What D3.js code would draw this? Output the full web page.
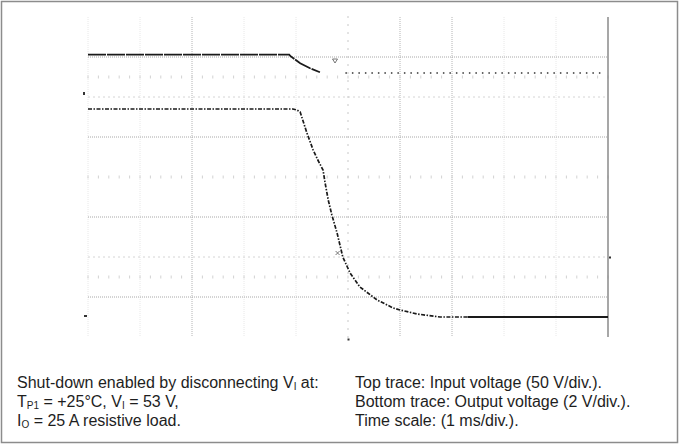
<!DOCTYPE html>
<html>
<head>
<meta charset="utf-8">
<script src="https://cdn.jsdelivr.net/npm/d3@7"></script>
<style>
  body { margin: 0; background: #fff; }
  svg text { font-family: "Liberation Sans", Arial, sans-serif; fill: #1e1e1e; }
</style>
</head>
<body>
<svg id="chart" width="684" height="446"></svg>
<script>
// graticule: 10 time divisions (1 ms/div), 8 vertical divisions
const timeDivs = [0, 1, 2, 3, 4, 5, 6, 7, 8, 9, 10];
const darkCols = [2, 6, 7];
const faintCols = [0, 1, 3, 4, 8, 9];
const darkRows = [1, 3, 5, 7];
const faintRows = [2, 6];
const tickRows = [1.5, 4, 6.5];

// top trace: input voltage (50 V/div), time in ms
const inputTime = [0, 3.87, 3.89, 4.08, 4.27, 4.46];
const inputVolts = [53, 53, 51.3, 42.1, 35.9, 30.9];
const inputTailTime = [4.95, 9.95];
const inputTailVolts = [30, 30];

// bottom trace: output voltage (2 V/div), time in ms
const outputTime = [0, 3.94, 4.02, 4.08, 4.21, 4.33, 4.42, 4.52, 4.56, 4.62, 4.69, 4.79, 4.90, 5.04, 5.23, 5.56, 5.87, 6.0, 6.33, 6.77, 7.3, 10];
const outputVolts = [10.4, 10.4, 10.35, 10.25, 9.2, 8.35, 7.85, 7.35, 6.7, 5.85, 5.1, 4.2, 3.0, 2.2, 1.5, 0.85, 0.45, 0.35, 0.15, 0.0, 0.0, 0.0];

const svg = d3.select("#chart");

// outer frame
svg.append("rect")
  .attr("x", 1.5).attr("y", 1.5)
  .attr("width", 676).attr("height", 441)
  .attr("fill", "none")
  .attr("stroke", "#8c8c8c")
  .attr("stroke-width", 1.5);

const x = d3.scaleLinear().domain([0, 10]).range([88, 608]);
const div = d3.scaleLinear().domain([0, 8]).range([17, 337]);
// channel scales (one division = 40px), ground references at their markers
const yIn = d3.scaleLinear().domain([0, 50]).range([div(2), div(1)]);
const yOut = d3.scaleLinear().domain([0, 2]).range([div(7.5), div(6.5)]);

const grid = svg.append("g");

// vertical grid lines
grid.selectAll(".vfaint").data(faintCols).enter().append("line")
  .attr("x1", d => x(d)).attr("x2", d => x(d))
  .attr("y1", div(0)).attr("y2", div(8))
  .attr("stroke", "#e8e8e8").attr("stroke-dasharray", "1,1");
grid.selectAll(".vdark").data(darkCols).enter().append("line")
  .attr("x1", d => x(d)).attr("x2", d => x(d))
  .attr("y1", div(0)).attr("y2", div(8))
  .attr("stroke", "#b4b4b4").attr("stroke-dasharray", "1,1");

// horizontal grid lines
grid.selectAll(".hfaint").data(faintRows).enter().append("line")
  .attr("x1", x(0)).attr("x2", x(10))
  .attr("y1", d => div(d)).attr("y2", d => div(d))
  .attr("stroke", "#d4d4d4").attr("stroke-dasharray", "2,3");
grid.selectAll(".hdark").data(darkRows).enter().append("line")
  .attr("x1", x(0)).attr("x2", x(10))
  .attr("y1", d => div(d)).attr("y2", d => div(d))
  .attr("stroke", "#a8a8a8").attr("stroke-dasharray", "1,1");

// minor ticks along some rows (5 per division)
const minor = d3.range(0, 10.01, 0.2);
tickRows.forEach(r => {
  grid.selectAll(null).data(minor).enter().append("line")
    .attr("x1", d => x(d)).attr("x2", d => x(d))
    .attr("y1", div(r) - 1.5).attr("y2", div(r) + 1.5)
    .attr("stroke", "#d2d2d2");
});
// minor ticks on the centre column
grid.selectAll(null).data(d3.range(0, 8.01, 0.2)).enter().append("line")
  .attr("x1", x(5) - 1).attr("x2", x(5) + 1)
  .attr("y1", d => div(d)).attr("y2", d => div(d))
  .attr("stroke", "#c8c8c8");

// right edge of screen
grid.append("line")
  .attr("x1", x(10)).attr("x2", x(10))
  .attr("y1", div(0)).attr("y2", div(8))
  .attr("stroke", "#8a8a8a").attr("stroke-width", 1.5);

// traces
const lineIn = d3.line().x(d => x(d[0])).y(d => yIn(d[1]));
const lineOut = d3.line().x(d => x(d[0])).y(d => yOut(d[1]));

svg.append("path")
  .datum(d3.zip(inputTime, inputVolts))
  .attr("d", lineIn)
  .attr("fill", "none").attr("stroke", "#1a1a1a")
  .attr("stroke-width", 1.8).attr("stroke-dasharray", "18,1");

svg.append("path")
  .datum(d3.zip(inputTailTime, inputTailVolts))
  .attr("d", lineIn)
  .attr("fill", "none").attr("stroke", "#333")
  .attr("stroke-width", 1.5).attr("stroke-dasharray", "1.5,5");

const outData = d3.zip(outputTime, outputVolts);
svg.append("path")
  .datum(outData)
  .attr("d", lineOut)
  .attr("fill", "none").attr("stroke", "#1a1a1a")
  .attr("stroke-width", 1.7).attr("stroke-dasharray", "4,1.5,1.5,1.5");
// settled part of the output trace is drawn solid
svg.append("path")
  .datum(outData.filter(d => d[0] >= 7.3))
  .attr("d", lineOut)
  .attr("fill", "none").attr("stroke", "#1a1a1a")
  .attr("stroke-width", 1.8);

// channel / trigger markers
const marks = svg.append("g").attr("fill", "#333");
marks.append("rect").attr("x", x(0) - 5).attr("y", yIn(0) - 5).attr("width", 2).attr("height", 3);
marks.append("rect").attr("x", x(0) - 4).attr("y", yOut(0) - 2).attr("width", 3).attr("height", 2);
marks.append("rect").attr("x", x(10) + 1).attr("y", div(6) - 0.5).attr("width", 2).attr("height", 2);
marks.append("rect").attr("x", x(5) - 0.5).attr("y", div(8) + 1.5).attr("width", 2).attr("height", 2);
// trigger point marker
marks.append("path")
  .attr("d", `M${x(4.75) - 2.5},${yIn(45) - 2} h5 l-2.5,4 z`)
  .attr("fill", "none").attr("stroke", "#555").attr("stroke-width", 0.8);
// cursor cross on the output trace
marks.append("path")
  .attr("d", `M${x(4.8) - 2},${yOut(3.2) - 2} l4,4 M${x(4.8) + 2},${yOut(3.2) - 2} l-4,4`)
  .attr("stroke", "#555").attr("stroke-width", 0.8);

// caption
const cap = svg.append("g").attr("font-size", 16);
const left = cap.append("text").attr("x", 17).attr("y", 388);
left.append("tspan").text("Shut-down enabled by disconnecting V");
left.append("tspan").attr("font-size", 10).attr("dy", 2).text("I");
left.append("tspan").attr("dy", -2).text(" at:");

const l2 = cap.append("text").attr("x", 17).attr("y", 407);
l2.append("tspan").text("T");
l2.append("tspan").attr("font-size", 10).attr("dy", 2).text("P1");
l2.append("tspan").attr("dy", -2).text(" = +25°C, V");
l2.append("tspan").attr("font-size", 10).attr("dy", 2).text("I");
l2.append("tspan").attr("dy", -2).text(" = 53 V,");

const l3 = cap.append("text").attr("x", 17).attr("y", 426);
l3.append("tspan").text("I");
l3.append("tspan").attr("font-size", 10).attr("dy", 2).text("O");
l3.append("tspan").attr("dy", -2).text(" = 25 A resistive load.");

const rightLines = ["Top trace: Input voltage (50 V/div.).", "Bottom trace: Output voltage (2 V/div.).", "Time scale: (1 ms/div.)."];
cap.selectAll(".r").data(rightLines).enter().append("text")
  .attr("x", 355).attr("y", (d, i) => 388 + i * 19)
  .text(d => d);
</script>
</body>
</html>
